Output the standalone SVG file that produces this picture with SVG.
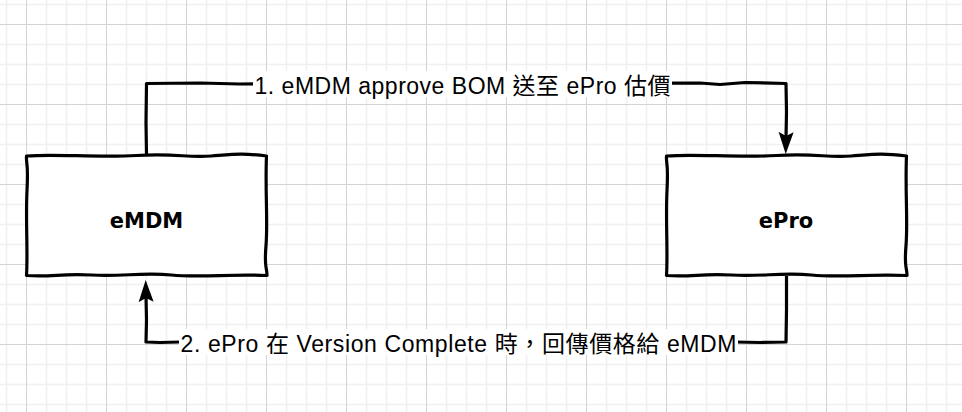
<svg xmlns="http://www.w3.org/2000/svg" width="962" height="412" viewBox="0 0 962 412">
<style>
.minor{stroke:#f0f0f0;stroke-width:1.6;fill:none}
.major{stroke:#d3d3d3;stroke-width:1;fill:none}
.box{fill:#ffffff;stroke:#000000;stroke-width:3.2;stroke-linejoin:round;stroke-linecap:round}
.node-label{font-family:"DejaVu Sans","Noto Sans",sans-serif;font-weight:bold;font-size:21px;fill:#000000;text-anchor:middle}
.edge{fill:none;stroke:#000000;stroke-width:3.2;stroke-linejoin:round}
.edge-bg{fill:#ffffff}
.edge-label{font-family:"Liberation Sans","Noto Sans CJK TC",sans-serif;font-size:23px;fill:#000000;text-anchor:middle}
</style>
<defs>
<path id="sketchBox" d="M0 0.5 C30 -2,70 2.5,110 0 S160 2.5,185 0.5 S215 -2.5,240 0.5 C238.5 35,241.5 65,239.5 90 S240.5 110,240.5 120 C205 118,175 122.5,145 119.5 S95 121.5,65 119.5 S25 122,0 120 C1.5 95,-1 65,0.5 35 S-0.5 10,0 0.5 Z"/>
<marker id="arrow" markerUnits="userSpaceOnUse" markerWidth="23" markerHeight="16" refX="6" refY="7.5" orient="auto" viewBox="0 0 23 15">
<path d="M0 0 L22 7.5 L0 15 L4 7.5 Z" fill="#000000"/>
</marker>
</defs>
<rect width="962" height="412" fill="#ffffff"/>
<g id="grid">
<path class="minor" d="M6.5 0V412M46.5 0V412M66.5 0V412M86.5 0V412M126.5 0V412M146.5 0V412M166.5 0V412M206.5 0V412M226.5 0V412M246.5 0V412M286.5 0V412M306.5 0V412M326.5 0V412M366.5 0V412M386.5 0V412M406.5 0V412M446.5 0V412M466.5 0V412M486.5 0V412M526.5 0V412M546.5 0V412M566.5 0V412M606.5 0V412M626.5 0V412M646.5 0V412M686.5 0V412M706.5 0V412M726.5 0V412M766.5 0V412M786.5 0V412M806.5 0V412M846.5 0V412M866.5 0V412M886.5 0V412M926.5 0V412M946.5 0V412M0 4.5H962M0 44.5H962M0 64.5H962M0 84.5H962M0 124.5H962M0 144.5H962M0 164.5H962M0 204.5H962M0 224.5H962M0 244.5H962M0 284.5H962M0 304.5H962M0 324.5H962M0 364.5H962M0 384.5H962M0 404.5H962"/>
<path class="major" d="M26.5 0V412M106.5 0V412M186.5 0V412M266.5 0V412M346.5 0V412M426.5 0V412M506.5 0V412M586.5 0V412M666.5 0V412M746.5 0V412M826.5 0V412M906.5 0V412M0 24.5H962M0 104.5H962M0 184.5H962M0 264.5H962M0 344.5H962"/>
</g>
<g id="connectors">
<g id="edge1">
<path class="edge" d="M146.5 155 L146 122 L146.5 83.5 L200 83 L240 84 L700 83 L720 84.5 L745 82.5 L786 83.5 L786.5 112 L786 138" marker-end="url(#arrow)"/>
<rect class="edge-bg" x="253" y="71" width="419" height="26"/>
<text class="edge-label" x="462.5" y="94" textLength="416" lengthAdjust="spacing">1. eMDM approve BOM 送至 ePro 估價</text>
</g>
<g id="edge2">
<path class="edge" d="M786.5 276 L786.5 310 L786 342 L760 342.5 L735 342 L180 342 L160 342.5 L146 342 L146.5 320 L146 296" marker-end="url(#arrow)"/>
<rect class="edge-bg" x="179" y="329" width="559" height="26"/>
<text class="edge-label" x="458.5" y="352" textLength="556" lengthAdjust="spacing">2. ePro 在 Version Complete 時，回傳價格給 eMDM</text>
</g>
</g>
<g id="node-eMDM">
<use href="#sketchBox" class="box" x="26.5" y="155.5"/>
<text class="node-label" x="146.5" y="228">eMDM</text>
</g>
<g id="node-ePro">
<use href="#sketchBox" class="box" x="666.5" y="155.5"/>
<text class="node-label" x="786" y="228">ePro</text>
</g>
</svg>
